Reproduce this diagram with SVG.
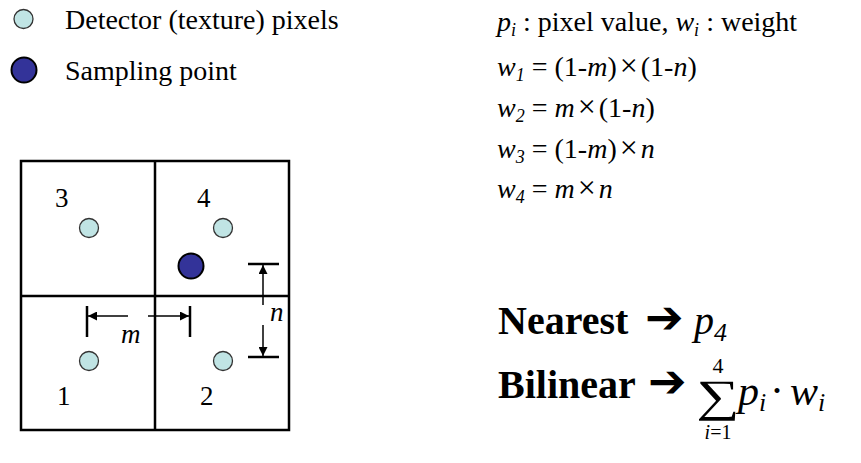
<svg xmlns="http://www.w3.org/2000/svg" width="861" height="463" viewBox="0 0 861 463">
<defs>
<style>
text{font-family:"Liberation Serif","Times New Roman",serif;fill:#000}
.leg{font-size:28px}
.f{font-size:28px}
.it{font-style:italic}
.sub{font-size:18px}
.x{font-size:32px}
.lbl{font-size:27px}
.big{font-size:40px;font-weight:bold}
.arr{font-family:"DejaVu Sans",sans-serif;font-size:46px}
.px{fill:#c0e4e4;stroke:#333;stroke-width:1.3}
.sp{fill:#333399;stroke:#000;stroke-width:2}
.grid{fill:none;stroke:#000;stroke-width:2.5}
.dim{stroke:#000;stroke-width:1.5;fill:none}
.tick{stroke:#000;stroke-width:2.5}
</style>
<marker id="ah" viewBox="0 0 10 10" refX="10" refY="5" markerWidth="10" markerHeight="9" markerUnits="userSpaceOnUse" orient="auto">
<path d="M0,0 L10,5 L0,10 z" fill="#000"/>
</marker>
</defs>
<g id="legend">
<circle class="px" cx="23.5" cy="19" r="9.5"/>
<text class="leg" x="65" y="29">Detector (texture) pixels</text>
<circle class="sp" cx="24" cy="70" r="12.5"/>
<text class="leg" x="65" y="80">Sampling point</text>
</g>
<g id="grid">
<rect class="grid" x="21" y="161" width="268" height="269"/>
<line class="grid" x1="155" y1="161" x2="155" y2="430"/>
<line class="grid" x1="21" y1="296" x2="289" y2="296"/>
</g>
<g id="pixel3"><circle class="px" cx="89" cy="228" r="9.5"/><text class="lbl" x="55" y="207">3</text></g>
<g id="pixel4"><circle class="px" cx="223" cy="228" r="9.5"/><text class="lbl" x="197" y="207">4</text></g>
<g id="pixel1"><circle class="px" cx="89" cy="361" r="9.5"/><text class="lbl" x="57" y="405">1</text></g>
<g id="pixel2"><circle class="px" cx="223" cy="361" r="9.5"/><text class="lbl" x="200" y="405">2</text></g>
<g id="sample"><circle class="sp" cx="191" cy="266" r="12.5"/></g>
<g id="connectors">
<line class="tick" x1="87" y1="306" x2="87" y2="337"/>
<line class="tick" x1="190" y1="306" x2="190" y2="337"/>
<line class="dim" x1="128" y1="316" x2="88" y2="316" marker-end="url(#ah)"/>
<line class="dim" x1="148" y1="316" x2="189" y2="316" marker-end="url(#ah)"/>
<line class="tick" x1="248" y1="264" x2="279" y2="264"/>
<line class="tick" x1="248" y1="357" x2="279" y2="357"/>
<line class="dim" x1="263" y1="305" x2="263" y2="265" marker-end="url(#ah)"/>
<line class="dim" x1="263" y1="325" x2="263" y2="356" marker-end="url(#ah)"/>
</g>
<g id="dimlabels">
<text class="lbl it" x="121" y="343">m</text>
<text class="lbl it" x="270" y="321">n</text>
</g>
<g id="formulas" class="f">
<text x="497" y="31"><tspan class="it">p</tspan><tspan class="it sub" dy="5">i</tspan><tspan dy="-5"> : pixel value, </tspan><tspan class="it">w</tspan><tspan class="it sub" dy="5">i</tspan><tspan dy="-5"> : weight</tspan></text>
<text x="497" y="76"><tspan class="it">w</tspan><tspan class="it sub" dy="5">1</tspan><tspan dy="-5"> = (1-</tspan><tspan class="it">m</tspan><tspan>)</tspan><tspan class="x" dx="3">×</tspan><tspan dx="3">(1-</tspan><tspan class="it">n</tspan><tspan>)</tspan></text>
<text x="497" y="117"><tspan class="it">w</tspan><tspan class="it sub" dy="5">2</tspan><tspan dy="-5"> = </tspan><tspan class="it">m</tspan><tspan class="x" dx="3">×</tspan><tspan dx="3">(1-</tspan><tspan class="it">n</tspan><tspan>)</tspan></text>
<text x="497" y="158"><tspan class="it">w</tspan><tspan class="it sub" dy="5">3</tspan><tspan dy="-5"> = (1-</tspan><tspan class="it">m</tspan><tspan>)</tspan><tspan class="x" dx="3">×</tspan><tspan class="it" dx="3">n</tspan></text>
<text x="497" y="198"><tspan class="it">w</tspan><tspan class="it sub" dy="5">4</tspan><tspan dy="-5"> = </tspan><tspan class="it">m</tspan><tspan class="x" dx="3">×</tspan><tspan class="it" dx="3">n</tspan></text>
</g>
<g id="nearest">
<text class="big" x="498" y="334">Nearest</text>
<text class="arr" x="645" y="333">➔</text>
<text x="694" y="334" class="it" style="font-size:40px">p<tspan dy="7" style="font-size:26px">4</tspan></text>
</g>
<g id="bilinear">
<text class="big" x="498" y="398">Bilinear</text>
<text class="arr" x="648" y="397">➔</text>
<text transform="translate(718,411) scale(1.35,1)" text-anchor="middle" style="font-size:45px">∑</text>
<text x="718" y="373" text-anchor="middle" style="font-size:22px">4</text>
<text x="718" y="439" text-anchor="middle" style="font-size:20px"><tspan class="it">i</tspan>=1</text>
<text x="738" y="405" class="it" style="font-size:42px">p<tspan dy="6" style="font-size:26px">i</tspan></text>
<text x="777" y="405" text-anchor="middle" style="font-size:42px">·</text>
<text x="790" y="405" class="it" style="font-size:42px">w<tspan dy="6" style="font-size:26px">i</tspan></text>
</g>
</svg>
